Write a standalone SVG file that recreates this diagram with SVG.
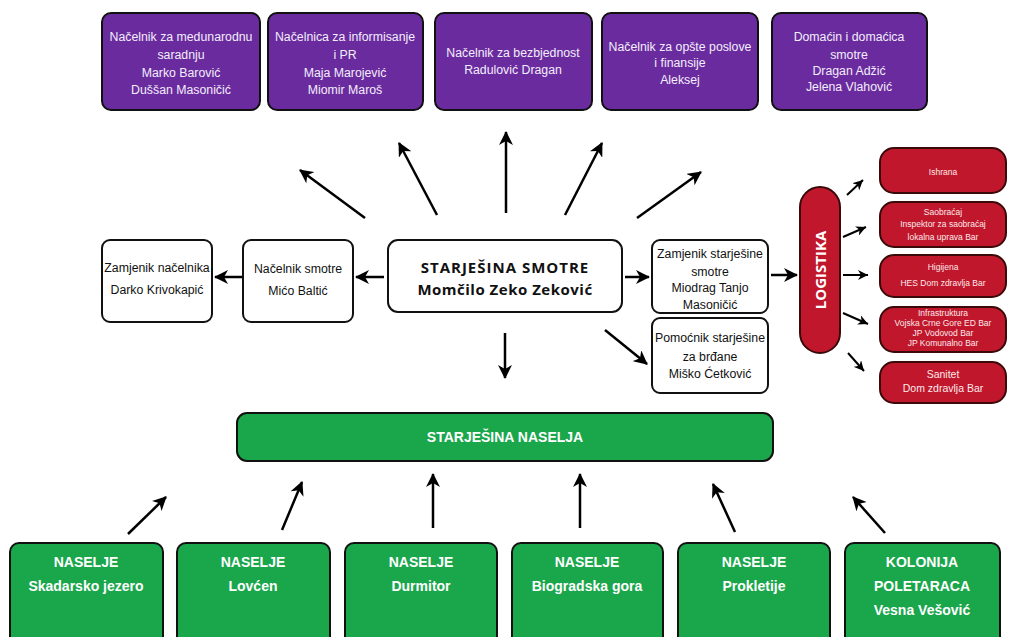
<svg xmlns="http://www.w3.org/2000/svg" width="1010" height="637" viewBox="0 0 1010 637">
<defs>
<marker id="ah" markerUnits="userSpaceOnUse" markerWidth="16" markerHeight="14" refX="13" refY="7" orient="auto">
<path d="M0,0 L14,7 L0,14 L4,7 z" fill="#000"/>
</marker>
<marker id="ahs" markerUnits="userSpaceOnUse" markerWidth="12" markerHeight="10" refX="10" refY="5" orient="auto">
<path d="M0,0 L10,5 L0,10 L3,5 z" fill="#000"/>
</marker>
<style>
.p{fill:#6a2b9f;stroke:#111;stroke-width:2}
.w{fill:#fff;stroke:#111;stroke-width:2}
.r{fill:#c0172c;stroke:#3a0a0a;stroke-width:2}
.g{fill:#1aa64b;stroke:#111;stroke-width:2}
.tp{font-family:"Liberation Sans",Arial,sans-serif;font-size:12.3px;fill:#f3eefa;text-anchor:middle}
.tw{font-family:"Liberation Sans",Arial,sans-serif;font-size:12.3px;fill:#111;text-anchor:middle}
.tb{font-family:"Open Sans","Liberation Sans",sans-serif;font-size:15px;font-weight:bold;fill:#111;text-anchor:middle}
.tr{font-family:"Liberation Sans",Arial,sans-serif;font-size:8.5px;fill:#fbe9ea;text-anchor:middle}
.tr2{font-family:"Liberation Sans",Arial,sans-serif;font-size:10.5px;fill:#fbe9ea;text-anchor:middle}
.tg{font-family:"Liberation Sans",Arial,sans-serif;font-size:14px;font-weight:bold;fill:#fff;text-anchor:middle}
.a{stroke:#000;stroke-width:2.5;fill:none;marker-end:url(#ah)}
.as{stroke:#000;stroke-width:2;fill:none;marker-end:url(#ahs)}
</style>
</defs>
<rect width="1010" height="637" fill="#fff"/>

<g id="n-medjunarodna"><rect class="p" x="102" y="13" width="158" height="97" rx="9"/>
<text class="tp" x="181" y="41">Načelnik za medunarodnu</text><text class="tp" x="181" y="59">saradnju</text><text class="tp" x="181" y="77">Marko Barović</text><text class="tp" x="181" y="94">Duššan Masoničić</text></g>
<g id="n-informisanje"><rect class="p" x="268" y="13" width="155" height="97" rx="9"/>
<text class="tp" x="345" y="41">Načelnica za informisanje</text><text class="tp" x="345" y="59">i PR</text><text class="tp" x="345" y="77">Maja Marojević</text><text class="tp" x="345" y="94">Miomir Maroš</text></g>
<g id="n-bezbjednost"><rect class="p" x="435" y="13" width="157" height="97" rx="9"/>
<text class="tp" x="513" y="57">Načelnik za bezbjednost</text><text class="tp" x="513" y="74">Radulović Dragan</text></g>
<g id="n-opsti"><rect class="p" x="602" y="13" width="156" height="97" rx="9"/>
<text class="tp" x="680" y="51">Načelnik za opšte poslove</text><text class="tp" x="680" y="67">i finansije</text><text class="tp" x="680" y="84">Aleksej</text></g>
<g id="n-domacin"><rect class="p" x="772" y="13" width="155" height="97" rx="9"/>
<text class="tp" x="849" y="41">Domaćin i domaćica</text><text class="tp" x="849" y="59">smotre</text><text class="tp" x="849" y="75">Dragan Adžić</text><text class="tp" x="849" y="91">Jelena Vlahović</text></g>

<g id="n-zamjenik-nacelnika"><rect class="w" x="102" y="240" width="110" height="82" rx="8"/>
<text class="tw" x="157" y="272">Zamjenik načelnika</text><text class="tw" x="157" y="294">Darko Krivokapić</text></g>
<g id="n-nacelnik-smotre"><rect class="w" x="243" y="240" width="110" height="82" rx="8"/>
<text class="tw" x="298" y="273">Načelnik smotre</text><text class="tw" x="298" y="295">Mićo Baltić</text></g>
<g id="n-starjesina-smotre"><rect class="w" x="388" y="240" width="234" height="72" rx="10"/>
<text class="tb" x="505" y="273" letter-spacing="1">STARJEŠINA SMOTRE</text><text class="tb" x="505" y="295" letter-spacing="0.5">Momčilo Zeko Zeković</text></g>
<g id="n-zamjenik-starjesine"><rect class="w" x="652" y="240" width="116" height="73" rx="8"/>
<text class="tw" x="710" y="258">Zamjenik starješine</text><text class="tw" x="710" y="276">smotre</text><text class="tw" x="710" y="292">Miodrag Tanjo</text><text class="tw" x="710" y="309">Masoničić</text></g>
<g id="n-pomocnik"><rect class="w" x="652" y="318" width="116" height="75" rx="8"/>
<text class="tw" x="710" y="342">Pomoćnik starješine</text><text class="tw" x="710" y="361">za brđane</text><text class="tw" x="710" y="378">Miško Ćetković</text></g>

<g id="n-logistika"><rect class="r" x="800" y="187" width="40" height="166" rx="20"/>
<text x="826" y="270" transform="rotate(-90 826 270)" font-family="Open Sans,Liberation Sans,sans-serif" font-size="15" font-weight="bold" fill="#fff" text-anchor="middle">LOGISTIKA</text></g>
<g id="n-ishrana"><rect class="r" x="880" y="148" width="126" height="45" rx="14"/>
<text class="tr" x="943" y="175">Ishrana</text></g>
<g id="n-saobracaj"><rect class="r" x="880" y="202" width="126" height="45" rx="14"/>
<text class="tr" x="943" y="215">Saobraćaj</text><text class="tr" x="943" y="227">Inspektor za saobraćaj</text><text class="tr" x="943" y="240">lokalna uprava Bar</text></g>
<g id="n-higijena"><rect class="r" x="880" y="255" width="126" height="42" rx="14"/>
<text class="tr" x="943" y="270">Higijena</text><text class="tr" x="943" y="286">HES Dom zdravlja Bar</text></g>
<g id="n-infrastruktura"><rect class="r" x="880" y="307" width="126" height="45" rx="14"/>
<text class="tr" x="943" y="316">Infrastruktura</text><text class="tr" x="943" y="326">Vojska Crne Gore ED Bar</text><text class="tr" x="943" y="336">JP Vodovod Bar</text><text class="tr" x="943" y="346">JP Komunalno Bar</text></g>
<g id="n-sanitet"><rect class="r" x="880" y="362" width="126" height="41" rx="14"/>
<text class="tr2" x="943" y="378">Sanitet</text><text class="tr2" x="943" y="392">Dom zdravlja Bar</text></g>

<g id="n-starjesina-naselja"><rect class="g" x="237" y="413" width="536" height="48" rx="10"/>
<text class="tg" x="505" y="442">STARJEŠINA NASELJA</text></g>
<g id="n-skadarsko"><rect class="g" x="10" y="543" width="153" height="110" rx="9"/>
<text class="tg" x="86" y="567">NASELJE</text><text class="tg" x="86" y="591">Skadarsko jezero</text></g>
<g id="n-lovcen"><rect class="g" x="177" y="543" width="153" height="110" rx="9"/>
<text class="tg" x="253" y="567">NASELJE</text><text class="tg" x="253" y="591">Lovćen</text></g>
<g id="n-durmitor"><rect class="g" x="345" y="543" width="152" height="110" rx="9"/>
<text class="tg" x="421" y="567">NASELJE</text><text class="tg" x="421" y="591">Durmitor</text></g>
<g id="n-biogradska"><rect class="g" x="512" y="543" width="151" height="110" rx="9"/>
<text class="tg" x="587" y="567">NASELJE</text><text class="tg" x="587" y="591">Biogradska gora</text></g>
<g id="n-prokletije"><rect class="g" x="678" y="543" width="152" height="110" rx="9"/>
<text class="tg" x="754" y="567">NASELJE</text><text class="tg" x="754" y="591">Prokletije</text></g>
<g id="n-kolonija"><rect class="g" x="845" y="543" width="155" height="110" rx="9"/>
<text class="tg" x="922" y="567">KOLONIJA</text><text class="tg" x="922" y="591">POLETARACA</text><text class="tg" x="922" y="615">Vesna Vešović</text></g>

<g id="connectors">
<line class="a" x1="365" y1="218" x2="300" y2="170"/>
<line class="a" x1="437" y1="215" x2="399" y2="143"/>
<line class="a" x1="506" y1="213" x2="506" y2="132"/>
<line class="a" x1="565" y1="215" x2="602" y2="143"/>
<line class="a" x1="637" y1="218" x2="701" y2="172"/>
<line class="a" x1="384" y1="277" x2="356" y2="277"/>
<line class="a" x1="242" y1="277" x2="215" y2="277"/>
<line class="a" x1="625" y1="277" x2="649" y2="277"/>
<line class="a" x1="605" y1="330" x2="647" y2="364"/>
<line class="a" x1="505" y1="333" x2="505" y2="378"/>
<line class="a" x1="771" y1="275" x2="797" y2="275"/>
<line class="as" x1="847" y1="195" x2="863" y2="180"/>
<line class="as" x1="843" y1="237" x2="866" y2="227"/>
<line class="as" x1="843" y1="275" x2="868" y2="275"/>
<line class="as" x1="843" y1="313" x2="868" y2="324"/>
<line class="as" x1="848" y1="353" x2="864" y2="371"/>
<line class="a" x1="128" y1="534" x2="166" y2="497"/>
<line class="a" x1="282" y1="530" x2="302" y2="482"/>
<line class="a" x1="433" y1="528" x2="433" y2="474"/>
<line class="a" x1="580" y1="528" x2="580" y2="474"/>
<line class="a" x1="735" y1="532" x2="713" y2="484"/>
<line class="a" x1="885" y1="533" x2="853" y2="497"/>
</g>
</svg>
